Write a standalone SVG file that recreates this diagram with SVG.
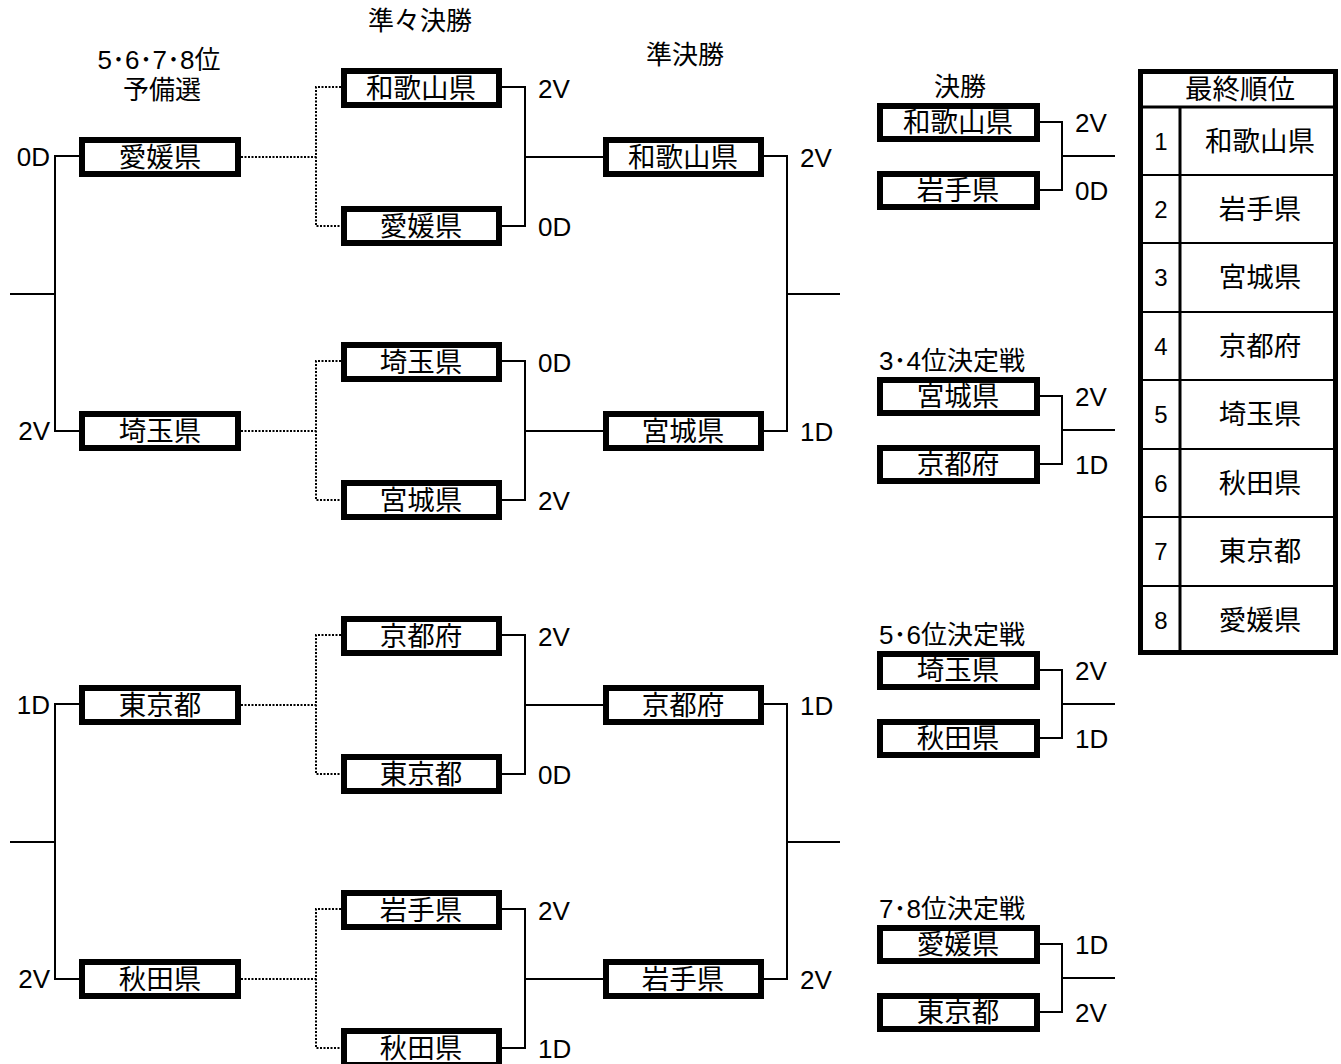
<svg xmlns="http://www.w3.org/2000/svg" width="1341" height="1064" viewBox="0 0 1341 1064">
<style>
.bg{fill:#fff}
.box{fill:#fff;stroke:#000;stroke-width:6}
.nm{font-family:"Noto Sans CJK JP","Noto Sans CJK SC",sans-serif;font-size:27.5px;text-anchor:middle;fill:#000}
.lb{font-family:"Liberation Sans",Arial,sans-serif;font-size:26px;fill:#000}
.lbr{font-family:"Liberation Sans",Arial,sans-serif;font-size:26px;fill:#000;text-anchor:end}
.hd{font-family:"Liberation Sans","Noto Sans CJK JP",sans-serif;font-size:26px;fill:#000}
.hdc{font-family:"Liberation Sans","Noto Sans CJK JP",sans-serif;font-size:26px;fill:#000;text-anchor:middle}
.ln{stroke:#000;stroke-width:2;fill:none}
.dt{stroke:#000;stroke-width:2;stroke-dasharray:2 1.5;fill:none}
.num{font-family:"Liberation Sans",Arial,sans-serif;font-size:24px;text-anchor:middle;fill:#000}
</style>
<rect class="bg" x="0" y="0" width="1341" height="1064"/>

<g id="headings">
<text class="hdc" x="420" y="30">準々決勝</text>
<text class="hdc" x="159" y="69">5･6･7･8位</text>
<text class="hdc" x="162" y="99">予備選</text>
<text class="hdc" x="685" y="64">準決勝</text>
<text class="hdc" x="960" y="96">決勝</text>
<text class="hd" x="879" y="370">3･4位決定戦</text>
<text class="hd" x="879" y="644">5･6位決定戦</text>
<text class="hd" x="879" y="918">7･8位決定戦</text>
</g>

<g id="connectors">
<path class="ln" d="M79,156 H55 V431 H79 M10,294 H55"/>
<path class="ln" d="M79,704 H55 V979 H79 M10,842 H55"/>
<path class="dt" d="M241,157 H316 M341,87 H316 V226 H341"/>
<path class="dt" d="M241,431 H316 M341,361 H316 V500 H341"/>
<path class="dt" d="M241,705 H316 M341,635 H316 V774 H341"/>
<path class="dt" d="M241,979 H316 M341,909 H316 V1048 H341"/>
<path class="ln" d="M502,87 H525 V226 H502 M525,157 H603"/>
<path class="ln" d="M502,361 H525 V500 H502 M525,431 H603"/>
<path class="ln" d="M502,635 H525 V774 H502 M525,705 H603"/>
<path class="ln" d="M502,909 H525 V1048 H502 M525,979 H603"/>
<path class="ln" d="M764,156 H787 V431 H764 M787,294 H840"/>
<path class="ln" d="M764,704 H787 V979 H764 M787,842 H840"/>
<path class="ln" d="M1040,122 H1062 V190 H1040 M1062,156 H1115"/>
<path class="ln" d="M1040,396 H1062 V464 H1040 M1062,430 H1115"/>
<path class="ln" d="M1040,670 H1062 V738 H1040 M1062,704 H1115"/>
<path class="ln" d="M1040,944 H1062 V1012 H1040 M1062,978 H1115"/>
</g>

<g id="scores">
<text class="lbr" x="50" y="166">0D</text>
<text class="lbr" x="50" y="440">2V</text>
<text class="lbr" x="50" y="714">1D</text>
<text class="lbr" x="50" y="988">2V</text>
<text class="lb" x="538" y="98">2V</text>
<text class="lb" x="538" y="236">0D</text>
<text class="lb" x="538" y="372">0D</text>
<text class="lb" x="538" y="510">2V</text>
<text class="lb" x="538" y="646">2V</text>
<text class="lb" x="538" y="784">0D</text>
<text class="lb" x="538" y="920">2V</text>
<text class="lb" x="538" y="1058">1D</text>
<text class="lb" x="800" y="167">2V</text>
<text class="lb" x="800" y="441">1D</text>
<text class="lb" x="800" y="715">1D</text>
<text class="lb" x="800" y="989">2V</text>
<text class="lb" x="1075" y="132">2V</text>
<text class="lb" x="1075" y="200">0D</text>
<text class="lb" x="1075" y="406">2V</text>
<text class="lb" x="1075" y="474">1D</text>
<text class="lb" x="1075" y="680">2V</text>
<text class="lb" x="1075" y="748">1D</text>
<text class="lb" x="1075" y="954">1D</text>
<text class="lb" x="1075" y="1022">2V</text>
</g>

<g id="a1"><rect class="box" x="82" y="140" width="156" height="34"/><text class="nm" x="160" y="167">愛媛県</text></g>
<g id="a2"><rect class="box" x="82" y="414" width="156" height="34"/><text class="nm" x="160" y="441">埼玉県</text></g>
<g id="a3"><rect class="box" x="82" y="688" width="156" height="34"/><text class="nm" x="160" y="715">東京都</text></g>
<g id="a4"><rect class="box" x="82" y="962" width="156" height="34"/><text class="nm" x="160" y="989">秋田県</text></g>

<g id="b1"><rect class="box" x="344" y="71" width="155" height="34"/><text class="nm" x="421" y="98">和歌山県</text></g>
<g id="b2"><rect class="box" x="344" y="209" width="155" height="34"/><text class="nm" x="421" y="236">愛媛県</text></g>
<g id="b3"><rect class="box" x="344" y="345" width="155" height="34"/><text class="nm" x="421" y="372">埼玉県</text></g>
<g id="b4"><rect class="box" x="344" y="483" width="155" height="34"/><text class="nm" x="421" y="510">宮城県</text></g>
<g id="b5"><rect class="box" x="344" y="619" width="155" height="34"/><text class="nm" x="421" y="646">京都府</text></g>
<g id="b6"><rect class="box" x="344" y="757" width="155" height="34"/><text class="nm" x="421" y="784">東京都</text></g>
<g id="b7"><rect class="box" x="344" y="893" width="155" height="34"/><text class="nm" x="421" y="920">岩手県</text></g>
<g id="b8"><rect class="box" x="344" y="1031" width="155" height="34"/><text class="nm" x="421" y="1058">秋田県</text></g>

<g id="c1"><rect class="box" x="606" y="140" width="155" height="34"/><text class="nm" x="683" y="167">和歌山県</text></g>
<g id="c2"><rect class="box" x="606" y="414" width="155" height="34"/><text class="nm" x="683" y="441">宮城県</text></g>
<g id="c3"><rect class="box" x="606" y="688" width="155" height="34"/><text class="nm" x="683" y="715">京都府</text></g>
<g id="c4"><rect class="box" x="606" y="962" width="155" height="34"/><text class="nm" x="683" y="989">岩手県</text></g>

<g id="d1"><rect class="box" x="880" y="106" width="157" height="33"/><text class="nm" x="958" y="132">和歌山県</text></g>
<g id="d2"><rect class="box" x="880" y="174" width="157" height="33"/><text class="nm" x="958" y="200">岩手県</text></g>
<g id="d3"><rect class="box" x="880" y="380" width="157" height="33"/><text class="nm" x="958" y="406">宮城県</text></g>
<g id="d4"><rect class="box" x="880" y="448" width="157" height="33"/><text class="nm" x="958" y="474">京都府</text></g>
<g id="d5"><rect class="box" x="880" y="654" width="157" height="33"/><text class="nm" x="958" y="680">埼玉県</text></g>
<g id="d6"><rect class="box" x="880" y="722" width="157" height="33"/><text class="nm" x="958" y="748">秋田県</text></g>
<g id="d7"><rect class="box" x="880" y="928" width="157" height="33"/><text class="nm" x="958" y="954">愛媛県</text></g>
<g id="d8"><rect class="box" x="880" y="996" width="157" height="33"/><text class="nm" x="958" y="1022">東京都</text></g>

<g id="standings">
<rect x="1140.5" y="71.5" width="195" height="581" fill="#fff" stroke="#000" stroke-width="5"/>
<path d="M1140,107 H1336" stroke="#000" stroke-width="3"/>
<path d="M1180,107 V653" stroke="#000" stroke-width="3"/>
<path d="M1140,175 H1336 M1140,243 H1336 M1140,312 H1336 M1140,380 H1336 M1140,449 H1336 M1140,517 H1336 M1140,586 H1336" stroke="#000" stroke-width="2"/>
<text class="nm" x="1240" y="99">最終順位</text>
<text class="num" x="1161" y="150">1</text><text class="nm" x="1260" y="151">和歌山県</text>
<text class="num" x="1161" y="218">2</text><text class="nm" x="1260" y="219">岩手県</text>
<text class="num" x="1161" y="286">3</text><text class="nm" x="1260" y="287">宮城県</text>
<text class="num" x="1161" y="355">4</text><text class="nm" x="1260" y="356">京都府</text>
<text class="num" x="1161" y="423">5</text><text class="nm" x="1260" y="424">埼玉県</text>
<text class="num" x="1161" y="492">6</text><text class="nm" x="1260" y="493">秋田県</text>
<text class="num" x="1161" y="560">7</text><text class="nm" x="1260" y="561">東京都</text>
<text class="num" x="1161" y="629">8</text><text class="nm" x="1260" y="630">愛媛県</text>
</g>
</svg>
